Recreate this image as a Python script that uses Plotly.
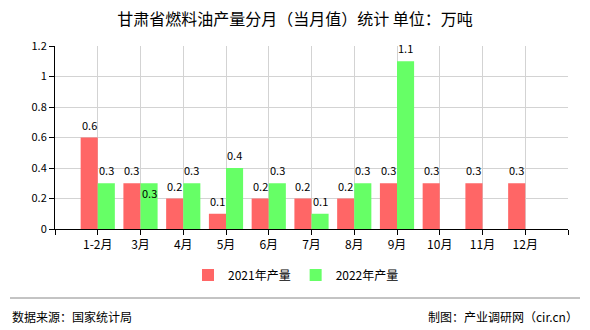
import plotly.graph_objects as go

categories = ["1-2月", "3月", "4月", "5月", "6月", "7月", "8月", "9月", "10月", "11月", "12月"]
values_2021 = [0.6, 0.3, 0.2, 0.1, 0.2, 0.2, 0.2, 0.3, 0.3, 0.3, 0.3]
values_2022 = [0.3, 0.3, 0.3, 0.4, 0.3, 0.1, 0.3, 1.1, None, None, None]
y_ticks = [0, 0.2, 0.4, 0.6, 0.8, 1.0, 1.2]
y_tick_labels = ["0", "0.2", "0.4", "0.6", "0.8", "1", "1.2"]

FONT = "Noto Sans CJK SC, SimSun, sans-serif"
RED = "rgb(255,102,102)"
GREEN = "rgb(102,255,102)"

PW, PH = 513, 183  # plot area size in px
def py(pix):  # pixel y -> paper y
    return (229 - pix) / PH
def px(pix):
    return (pix - 55) / PW

idx = list(range(len(categories)))

fig = go.Figure()
fig.add_trace(go.Bar(x=idx, y=values_2021, name="2021年产量", marker_color=RED,
                     marker_line_width=0))
fig.add_trace(go.Bar(x=idx, y=values_2022, name="2022年产量", marker_color=GREEN,
                     marker_line_width=0))

annotations = []
for i, v in enumerate(values_2021):
    annotations.append(dict(x=i - 0.2, y=v, text=f"{v:g}", showarrow=False, yanchor="bottom",
                            yshift=3, font=dict(size=11, color="#000", family=FONT)))
for i, v in enumerate(values_2022):
    if v is None:
        continue
    shift = -20 if i == 1 else 3
    annotations.append(dict(x=i + 0.2, y=v, text=f"{v:g}", showarrow=False, yanchor="bottom",
                            yshift=shift, font=dict(size=11, color="#000", family=FONT)))

annotations.append(dict(xref="paper", yref="paper", x=px(10), y=py(316),
                        xanchor="left", yanchor="middle", text="数据来源：国家统计局", showarrow=False,
                        font=dict(size=12, color="#000", family=FONT)))
annotations.append(dict(xref="paper", yref="paper", x=px(580), y=py(316),
                        xanchor="right", yanchor="middle", text="制图：产业调研网（cir.cn）", showarrow=False,
                        font=dict(size=12, color="#000", family=FONT)))

fig.update_layout(
    width=590, height=330,
    margin=dict(l=55, r=22, t=46, b=101, autoexpand=False),
    paper_bgcolor="white", plot_bgcolor="white",
    barmode="group", bargap=0.2, bargroupgap=0,
    showlegend=True,
    legend=dict(orientation="h", x=px(188), xanchor="left",
                y=py(275), yanchor="middle",
                font=dict(size=12, color="#000", family=FONT),
                traceorder="normal"),
    font=dict(family=FONT, color="#000"),
    title=dict(text="甘肃省燃料油产量分月（当月值）统计 单位：万吨", x=295 / 590, y=1 - 19 / 330,
               xref="container", xanchor="center", yanchor="middle",
               font=dict(size=16, color="#000", family=FONT)),
    annotations=annotations,
    shapes=[dict(type="line", xref="paper", yref="paper", x0=px(10), x1=px(580),
                 y0=py(298), y1=py(298), line=dict(color="#888", width=1))],
)

fig.update_xaxes(
    range=[-1, 11], tickmode="array",
    tickvals=list(range(-1, 12)),
    ticktext=[""] + categories + [""],
    showgrid=True, gridcolor="#d3d3d3", gridwidth=1,
    showline=True, linecolor="#000", linewidth=1,
    ticks="outside", ticklen=5, tickcolor="#000",
    tickfont=dict(size=12, color="#000", family=FONT),
    zeroline=False,
)
fig.update_yaxes(
    range=[0, 1.2], tickmode="array", tickvals=y_ticks, ticktext=y_tick_labels,
    showgrid=True, gridcolor="#d3d3d3", gridwidth=1,
    showline=True, linecolor="#000", linewidth=1,
    ticks="outside", ticklen=5, tickcolor="#000",
    tickfont=dict(size=11, color="#000", family=FONT),
    zeroline=False,
)

fig.write_html("out.html")
